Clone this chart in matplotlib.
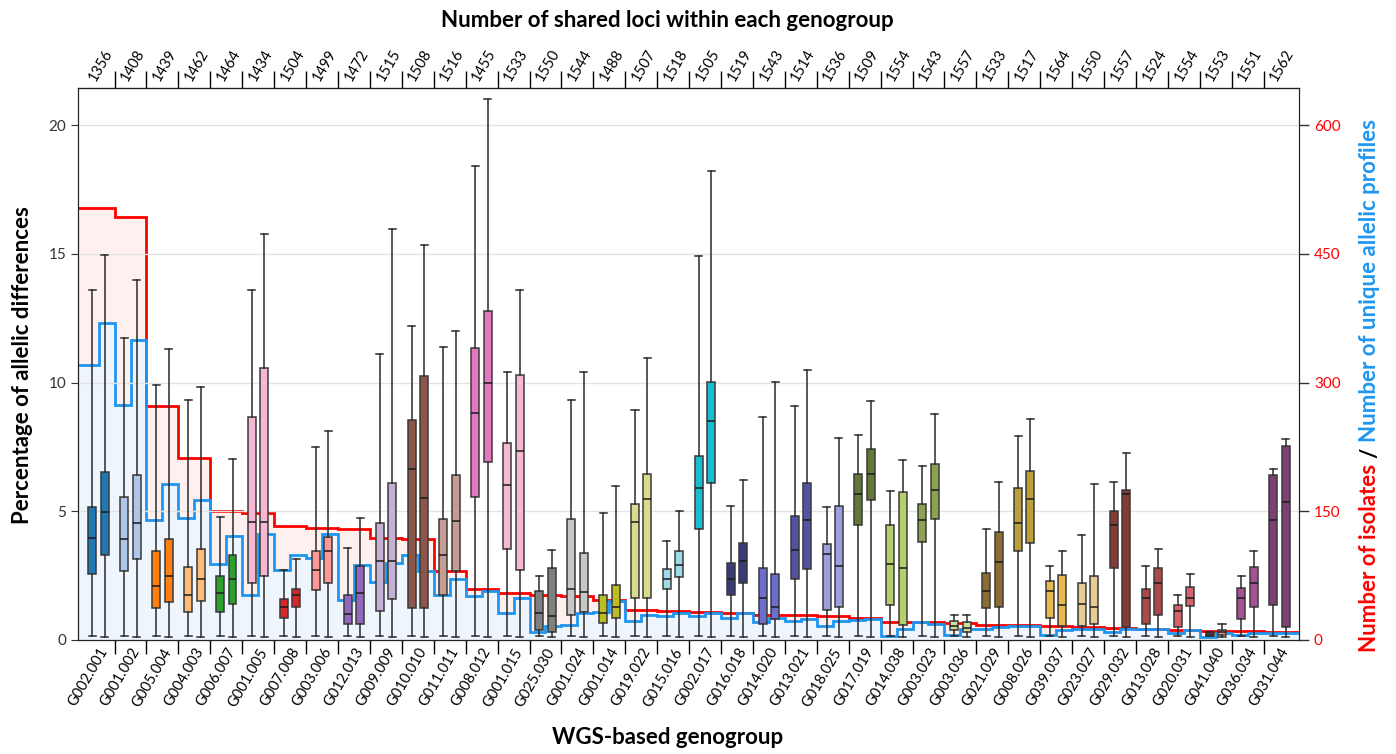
import matplotlib
matplotlib.use('Agg')
import matplotlib.pyplot as plt
import numpy as np

plt.rcParams['font.family'] = ['Lato', 'DejaVu Sans']

groups = ['G002.001', 'G001.002', 'G005.004', 'G004.003', 'G006.007', 'G001.005',
          'G007.008', 'G003.006', 'G012.013', 'G009.009', 'G010.010', 'G011.011',
          'G008.012', 'G001.015', 'G025.030', 'G001.024', 'G001.014', 'G019.022',
          'G015.016', 'G002.017', 'G016.018', 'G014.020', 'G013.021', 'G018.025',
          'G017.019', 'G014.038', 'G003.023', 'G003.036', 'G021.029', 'G008.026',
          'G039.037', 'G023.027', 'G029.032', 'G013.028', 'G020.031', 'G041.040',
          'G036.034', 'G031.044']
shared_loci = [1356, 1408, 1439, 1462, 1464, 1434, 1504, 1499, 1472, 1515, 1508, 1516,
               1455, 1533, 1550, 1544, 1488, 1507, 1518, 1505, 1519, 1543, 1514, 1536,
               1509, 1554, 1543, 1557, 1533, 1517, 1564, 1550, 1557, 1524, 1554, 1553,
               1551, 1562]
colors = ['#1f77b4', '#aec7e8', '#ff7f0e', '#ffbb78', '#2ca02c', '#f7b6d2',
          '#d62728', '#ff9896', '#9467bd', '#c5b0d5', '#8c564b', '#c49c94',
          '#e377c2', '#f7b6d2', '#7f7f7f', '#c7c7c7', '#bcbd22', '#dbdb8d',
          '#9edae5', '#17becf', '#393b79', '#6b6ecf', '#5254a3', '#9c9ede',
          '#637939', '#b5cf6b', '#8ca252', '#cedb9c', '#8c6d31', '#bd9e39',
          '#e7ba52', '#e7cb94', '#843c39', '#ad494a', '#d6616b', '#e7969c',
          '#a55194', '#7b4173']

# number of isolates per genogroup
isolates = [503, 493, 273, 212, 150, 148, 133, 131, 129, 119, 118, 80,
            59, 55, 52, 51, 47, 35, 34, 33, 32, 29, 29, 28,
            26, 21, 21, 20, 18, 17, 16, 15, 14, 13, 12, 11, 10, 9]
# number of unique allelic profiles (first / second half of each group)
profiles_a = [321, 274, 140, 142, 89, 53, 81, 95, 47, 67, 99, 53,
              51, 31, 9, 17, 33, 22, 28, 28, 26, 21, 22, 16,
              23, 5, 21, 6, 13, 16, 6, 13, 9, 13, 8, 4, 6, 8]
profiles_b = [369, 349, 182, 163, 121, 124, 99, 123, 87, 90, 80, 71,
              57, 49, 16, 31, 46, 29, 31, 32, 31, 26, 25, 22,
              24, 13, 19, 13, 15, 16, 12, 13, 13, 13, 12, 8, 8, 8]

# percentage of allelic differences, left box of each pair
whislo_a = [0.14] * 38
q1_a = [2.57, 2.69, 1.23, 1.10, 1.10, 2.21, 0.85, 1.95, 0.62, 1.12, 1.24, 1.74,
        5.56, 3.54, 0.40, 0.96, 0.66, 1.63, 1.99, 4.31, 1.74, 0.62, 2.35, 1.17,
        4.46, 1.34, 3.82, 0.40, 1.24, 3.47, 0.86, 0.54, 2.79, 0.64, 0.52, 0.17,
        0.83, 1.34]
med_a = [3.95, 3.93, 2.11, 1.74, 1.84, 4.57, 1.27, 2.73, 1.00, 3.08, 6.66, 3.32,
         8.80, 6.03, 1.03, 1.99, 1.03, 4.57, 2.36, 5.91, 2.36, 1.64, 3.48, 3.35,
         5.67, 2.97, 4.67, 0.54, 1.92, 4.55, 1.91, 1.39, 4.46, 1.63, 1.13, 0.24,
         1.63, 4.67]
q3_a = [5.16, 5.56, 3.44, 2.84, 2.48, 8.68, 1.61, 3.44, 1.73, 4.55, 8.56, 4.70,
        11.36, 7.64, 1.91, 4.71, 1.75, 5.29, 2.74, 7.14, 2.98, 2.81, 4.81, 3.72,
        6.44, 4.46, 5.30, 0.75, 2.60, 5.90, 2.28, 2.23, 5.01, 1.99, 1.37, 0.30,
        2.02, 6.39]
whishi_a = [13.58, 11.73, 9.89, 9.31, 4.79, 13.58, 2.73, 7.50, 3.58, 11.10, 12.20, 11.39,
            18.42, 10.41, 2.48, 9.31, 4.94, 8.92, 3.86, 14.91, 5.19, 8.68, 9.08, 5.18,
            7.95, 5.80, 6.76, 0.99, 4.30, 7.93, 2.86, 4.09, 6.15, 2.86, 1.74, 0.31,
            2.49, 6.65]
# right box of each pair
whislo_b = [0.11] * 38
q1_b = [3.32, 3.14, 1.46, 1.53, 1.39, 2.48, 1.29, 2.22, 0.62, 1.60, 1.24, 2.69,
        6.90, 2.73, 0.31, 1.10, 0.86, 1.65, 2.43, 6.11, 2.22, 0.83, 2.77, 1.27,
        5.43, 0.57, 4.70, 0.31, 1.29, 3.75, 0.54, 0.61, 0.50, 0.96, 1.33, 0.21,
        1.30, 0.52]
med_b = [4.99, 4.54, 2.48, 2.36, 2.35, 4.57, 1.73, 3.47, 1.81, 3.07, 5.52, 4.61,
         10.00, 7.33, 0.95, 1.87, 1.27, 5.46, 2.91, 8.50, 3.07, 1.29, 4.65, 2.86,
         6.44, 2.79, 5.84, 0.45, 3.01, 5.47, 1.34, 1.30, 5.66, 2.23, 1.65, 0.31,
         2.21, 5.35]
q3_b = [6.51, 6.39, 3.93, 3.54, 3.32, 10.58, 1.98, 3.99, 2.86, 6.08, 10.25, 6.39,
        12.79, 10.30, 2.81, 3.37, 2.14, 6.46, 3.44, 10.01, 3.75, 2.57, 6.11, 5.22,
        7.41, 5.73, 6.83, 0.68, 4.21, 6.55, 2.53, 2.50, 5.84, 2.81, 2.04, 0.40,
        2.83, 7.52]
whishi_b = [14.95, 13.99, 11.30, 9.83, 7.04, 15.76, 3.15, 8.12, 4.74, 15.98, 15.33, 12.01,
            21.00, 13.58, 3.49, 10.42, 6.00, 10.95, 5.02, 18.23, 6.21, 10.01, 10.47, 7.84,
            9.28, 7.00, 8.78, 0.99, 6.14, 8.60, 3.44, 6.04, 7.28, 3.52, 2.57, 0.61,
            3.47, 7.82]

n = len(groups)
x = np.arange(n)
x0, x1 = -0.64, n - 1 + 0.62
ymax = 21.44

fig = plt.figure(figsize=(13.96, 7.54), dpi=100)
ax = fig.add_axes([0.056, 0.1512, 0.8748, 0.7321])
ax2 = ax.twinx()

# step lines for isolates / unique profiles on the right axis
red_edges = np.concatenate([[x0], x[:-1] + 0.5, [x1]])
blue_vals = np.ravel(np.column_stack([profiles_a, profiles_b]))
blue_edges = np.ravel(np.column_stack([x, x + 0.5]))[:-1]
blue_edges = np.concatenate([[x0], blue_edges, [x1]])

ax2.stairs(isolates, red_edges, baseline=0, fill=True, color='#fff0f0', lw=0, zorder=1)
ax2.stairs(blue_vals, blue_edges, baseline=0, fill=True, color='#eef5fc', lw=0, zorder=2)
ax2.stairs(isolates, red_edges, baseline=None, color='#ff0000', lw=2, zorder=3)
ax2.stairs(blue_vals, blue_edges, baseline=None, color='#1e96f0', lw=2, zorder=4)
ax2.set_ylim(0, ymax * 30)
ax2.set_yticks([0, 150, 300, 450, 600])
ax2.tick_params(axis='y', colors='#333333', labelcolor='#ff0000', labelsize=11,
                length=7, width=1)
ax2.spines['right'].set_color('#444444')

# boxplots for the two sets in each genogroup
off, w = 0.195, 0.25
for side, stats_src in ((-1, (whislo_a, q1_a, med_a, q3_a, whishi_a)),
                        (1, (whislo_b, q1_b, med_b, q3_b, whishi_b))):
    lo, q1, md, q3, hi = stats_src
    stats = [dict(whislo=lo[i], q1=q1[i], med=md[i], q3=q3[i], whishi=hi[i], fliers=[])
             for i in range(n)]
    bp = ax.bxp(stats, positions=x + side * off, widths=w, capwidths=0.22,
                patch_artist=True, showfliers=False, manage_ticks=False,
                boxprops=dict(edgecolor='#3a3a3a', linewidth=1.1),
                medianprops=dict(color='#1a1a1a', linewidth=1.1),
                whiskerprops=dict(color='#2a2a2a', linewidth=1.1),
                capprops=dict(color='#2a2a2a', linewidth=1.1))
    for patch, c in zip(bp['boxes'], colors):
        patch.set_facecolor(c)

ax.set_zorder(ax2.get_zorder() + 1)
ax.patch.set_visible(False)
ax.set_xlim(x0, x1)
ax.set_ylim(0, ymax)
ax.set_yticks([0, 5, 10, 15, 20])
ax.yaxis.grid(True, color='#e2e2e2', lw=1)
ax.set_axisbelow(True)
ax.tick_params(axis='y', labelsize=11, length=5, colors='#333333')

# bottom axis: ticks at group boundaries, labels at group centres
ax.set_xticks(x[:-1] + 0.5)
ax.set_xticklabels([])
ax.set_xticks(x, groups, minor=True)
ax.tick_params(axis='x', which='major', length=10, width=1)
ax.tick_params(axis='x', which='minor', length=0, labelsize=10.5, pad=4)
for lbl in ax.get_xticklabels(minor=True):
    lbl.set_rotation(60)
    lbl.set_ha('right')
    lbl.set_va('top')
    lbl.set_rotation_mode('anchor')

# top axis with number of shared loci
top = ax.secondary_xaxis('top')
top.set_xticks(x[:-1] + 0.5)
top.set_xticklabels([])
top.set_xticks(x, [str(v) for v in shared_loci], minor=True)
top.tick_params(axis='x', which='major', length=12, width=1)
top.tick_params(axis='x', which='minor', length=0, labelsize=10.5, pad=3)
for lbl in top.get_xticklabels(minor=True):
    lbl.set_rotation(60)
    lbl.set_ha('left')
    lbl.set_va('bottom')
    lbl.set_rotation_mode('anchor')

for sp in ax.spines.values():
    sp.set_color('#222222')

fig.text(0.478, 0.973, 'Number of shared loci within each genogroup',
         ha='center', va='center', fontsize=16, fontweight='bold')
fig.text(0.478, 0.022, 'WGS-based genogroup',
         ha='center', va='center', fontsize=16, fontweight='bold')
fig.text(0.016, 0.516, 'Percentage of allelic differences', rotation=90,
         ha='center', va='center', fontsize=16, fontweight='bold')

# two-coloured right axis label
fig.canvas.draw()
renderer = fig.canvas.get_renderer()
inv = fig.transFigure.inverted()
ypos = 0.135
for txt, col in (('Number of isolates', '#ff0000'), ('/', '#000000'),
                 ('Number of unique allelic profiles', '#1e96f0')):
    t = fig.text(0.981, ypos, txt, rotation=90, ha='center', va='bottom',
                 fontsize=16, fontweight='bold', color=col)
    bb = t.get_window_extent(renderer)
    ypos = inv.transform((0, bb.y1))[1] + 0.008

fig.savefig('out.png', dpi=100, facecolor='white')
